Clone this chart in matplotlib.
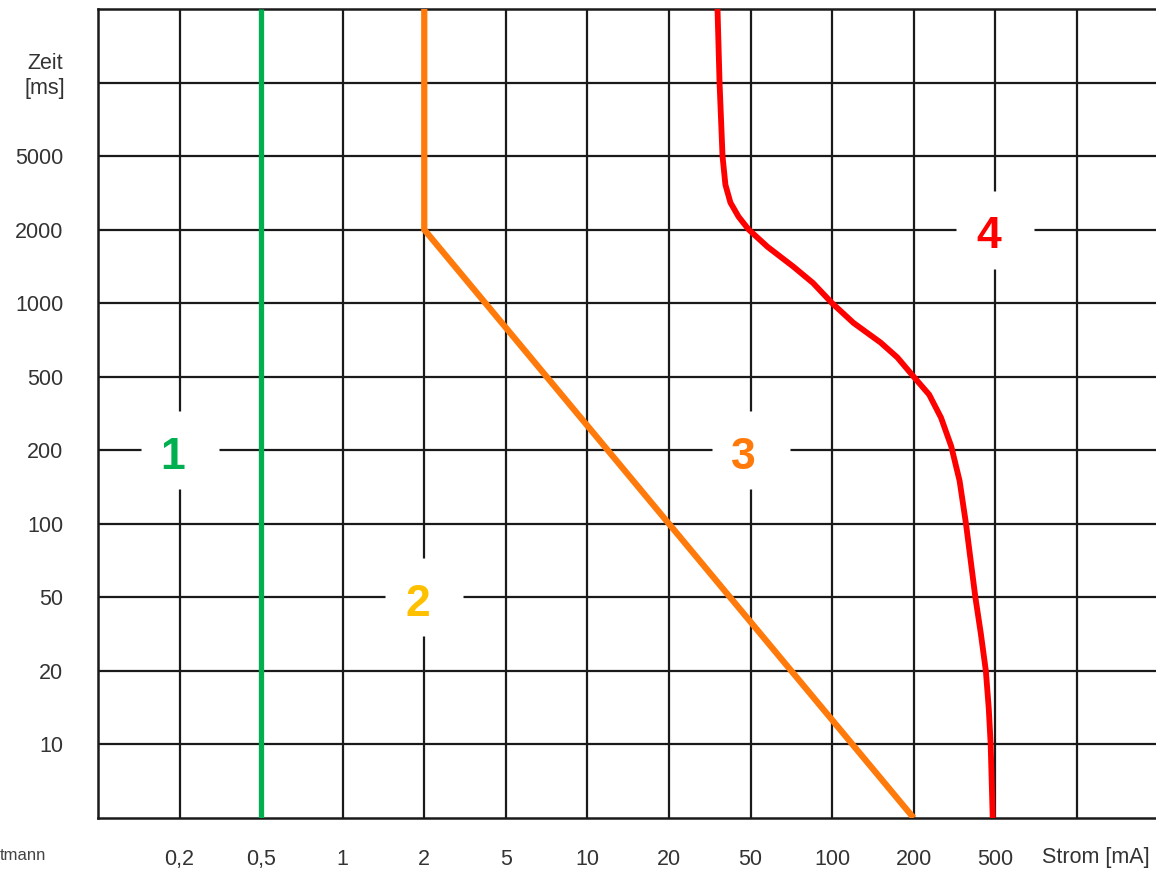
import numpy as np
import matplotlib
matplotlib.use("Agg")
import matplotlib.pyplot as plt

plt.rcParams['font.family'] = ['Liberation Sans', 'DejaVu Sans']

# axis steps (1-2-5 sequence, equally spaced on the chart)
x_seq = [0.1, 0.2, 0.5, 1, 2, 5, 10, 20, 50, 100, 200, 500, 1000, 2000]
y_seq = [5, 10, 20, 50, 100, 200, 500, 1000, 2000, 5000, 10000, 20000]

x_ticks = [0.2, 0.5, 1, 2, 5, 10, 20, 50, 100, 200, 500, 1000]
x_labels = ['0,2', '0,5', '1', '2', '5', '10', '20', '50', '100', '200', '500', '']
y_ticks = [10, 20, 50, 100, 200, 500, 1000, 2000, 5000, 10000]
y_labels = ['10', '20', '50', '100', '200', '500', '1000', '2000', '5000', '']

# curves, current in mA, time in ms
green_x = [0.5, 0.5]
green_y = [5, 20000]
orange_x = [2, 2, 200]
orange_y = [20000, 2000, 5]
red_x = [34.5, 35.3, 36.5, 37.7, 39.9, 43.7, 49, 57.8, 72, 85, 100, 120, 151, 174,
         200, 238, 272, 305, 335, 360, 400, 425, 450, 465, 475, 486]
red_y = [20000, 10000, 5000, 3500, 2800, 2350, 2000, 1700, 1410, 1210, 1000, 830, 690, 600,
         500, 400, 300, 210, 150, 100, 50, 32, 20, 14, 10, 5]

# zone numbers
zone_text = ['1', '2', '3', '4']
zone_x = [0.2, 2, 50, 500]
zone_y = [200, 50, 200, 2000]
zone_col = ['#00B050', '#FFC000', '#FF7A0A', '#FF0000']


def make_scale(seq):
    lseq = np.log10(seq)
    idx = np.arange(len(seq))

    def fwd(v):
        v = np.clip(np.asarray(v, dtype=float), 1e-9, None)
        return np.interp(np.log10(v), lseq, idx)

    def inv(i):
        return 10 ** np.interp(np.asarray(i, dtype=float), idx, lseq)
    return fwd, inv


fig = plt.figure(figsize=(11.56, 8.75), dpi=100)
ax = fig.add_axes([98 / 1156, 1 - 818 / 875, 1 - 98 / 1156, (818 - 9) / 875])

ax.set_xscale('function', functions=make_scale(x_seq))
ax.set_yscale('function', functions=make_scale(y_seq))
ax.set_xlim(0.1, 1960)
ax.set_ylim(5, 20000)

ax.set_xticks(x_ticks)
ax.set_xticklabels(x_labels)
ax.set_yticks(y_ticks)
ax.set_yticklabels(y_labels)
ax.minorticks_off()
ax.tick_params(length=0, labelsize=15.5, labelcolor='#333333')
ax.tick_params(axis='x', pad=22)
ax.tick_params(axis='y', pad=25)
ax.grid(True, color='#1a1a1a', lw=1.6)
ax.set_axisbelow(True)

for s in ['left', 'top', 'bottom']:
    ax.spines[s].set_color('#1a1a1a')
    ax.spines[s].set_linewidth(1.8)
ax.spines['right'].set_visible(False)

ax.plot(green_x, green_y, color='#00B050', lw=3.8, solid_capstyle='butt', zorder=3)
ax.plot(orange_x, orange_y, color='#FF7A0A', lw=4.5, solid_capstyle='butt',
        solid_joinstyle='miter', zorder=3)
ax.plot(red_x, red_y, color='#FF0000', lw=4.2, solid_capstyle='butt',
        solid_joinstyle='round', zorder=3)

# white gaps in the grid behind the zone numbers
ax.plot(zone_x, zone_y, ls='none', marker='s', ms=56, mfc='white', mec='none', zorder=4)
for t, x, y, c in zip(zone_text, zone_x, zone_y, zone_col):
    ax.annotate(t, (x, y), xytext=(-5, -5), textcoords='offset points',
                color=c, fontsize=32, fontweight='bold',
                ha='center', va='center', zorder=5)

fig.text(45 / 1156, 1 - 76 / 875, 'Zeit\n[ms]', ha='center', va='center',
         fontsize=15.5, color='#333333', linespacing=1.3)
fig.text(1096 / 1156, 1 - 858 / 875, 'Strom [mA]', ha='center', va='center',
         fontsize=15.5, color='#333333')
fig.text(0, 1 - 856 / 875, 'tmann', ha='left', va='center', fontsize=12, color='#444444')

fig.savefig('out.png', dpi=100)
